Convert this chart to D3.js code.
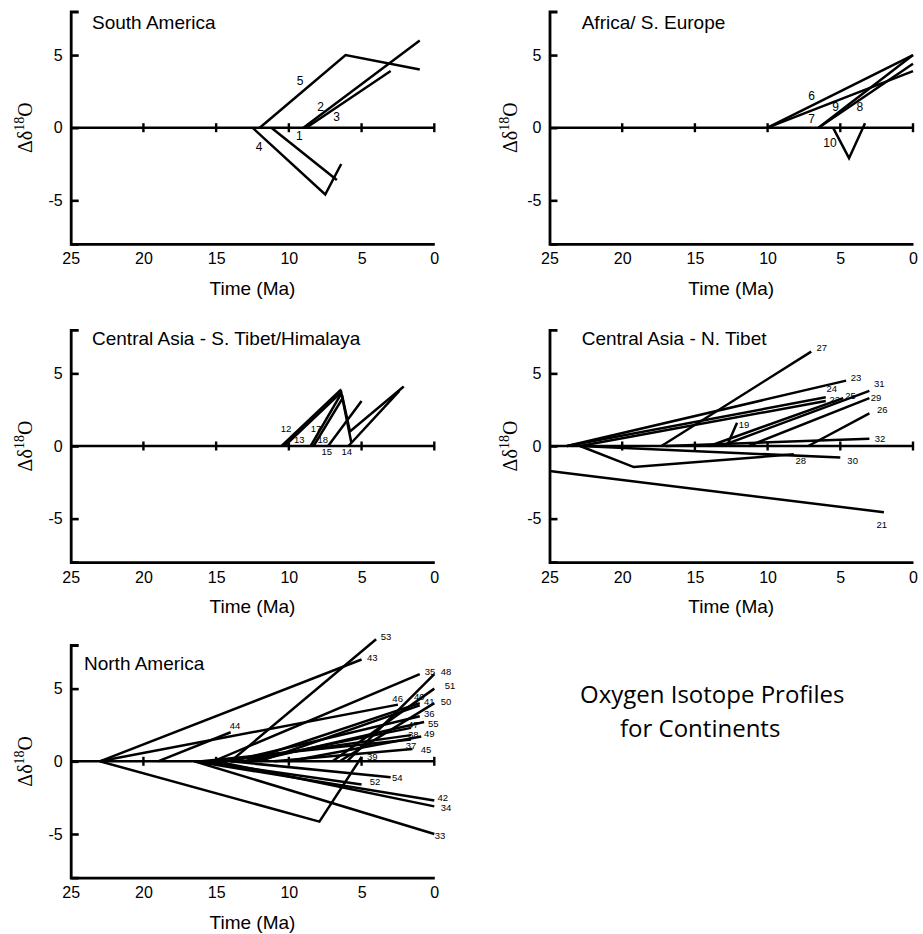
<!DOCTYPE html>
<html>
<head>
<meta charset="utf-8">
<script src="https://cdn.jsdelivr.net/npm/d3@7"></script>
<style>
  body { margin: 0; background: #fff; }
  text { fill: #000; }
</style>
</head>
<body>
<svg id="chart" width="923" height="934"></svg>
<script>
// Axis ticks
const timeTicks = [25, 20, 15, 10, 5, 0];
const zeroLineTicks = [20, 15, 10, 5, 0];
const valueTicks = [5, 0, -5];

// South America: profiles as [time Ma, delta] points, label anchors in data units
const southAmericaIds = ['1', '2', '3', '4', '5'];
const southAmericaLines = [
    [[11.2, 0], [6.7, -3.6]],
    [[9, 0], [1, 6]],
    [[8.8, 0], [3, 3.9]],
    [[12.5, 0], [7.5, -4.6], [6.4, -2.5]],
    [[12, 0], [6.1, 5], [1, 4]]
];
const southAmericaLabelAt = [[9.28, -0.57], [7.81, 1.45], [6.71, 0.76], [12.05, -1.31], [9.23, 3.21]];

// Africa / S. Europe
const africaIds = ['6', '7', '8', '9', '10'];
const africaLines = [
    [[10, 0], [0, 5]],
    [[10, 0], [0, 3.9]],
    [[6.5, 0], [0, 4.4]],
    [[6.5, 0], [0, 5]],
    [[5.5, 0], [4.4, -2.1], [3.3, 0.3]]
];
const africaLabelAt = [[6.97, 2.2], [6.97, 0.58], [3.65, 1.4], [5.32, 1.4], [5.71, -1.03]];

// Central Asia - S. Tibet/Himalaya
const southTibetIds = ['12', '13', '14', '15', '17', '18'];
const southTibetLines = [
    [[10.5, 0], [6.4, 3.9]],
    [[10.3, 0], [6.4, 3.7], [5.7, 0.2]],
    [[5.9, 0], [2.4, 3.8]],
    [[7.3, 0], [5, 3.1]],
    [[8.5, 0], [6.4, 3.6]],
    [[8.3, 0], [6.3, 3.3], [5.8, 1.0], [2.1, 4.1]]
];
const southTibetLabelAt = [[10.2, 1.22], [9.28, 0.48], [6.02, -0.39], [7.4, -0.39], [8.13, 1.22], [7.67, 0.46]];

// Central Asia - N. Tibet
const northTibetIds = ['19', '21', '22', '23', '24', '25', '26', '27', '28', '29', '30', '31', '32'];
const northTibetLines = [
    [[12.8, 0], [12.1, 1.6]],
    [[25, -1.72], [2, -4.56]],
    [[22.9, 0], [6, 3.1]],
    [[23.8, 0], [4.6, 4.5]],
    [[23.8, 0], [6, 3.35]],
    [[14, 0], [4.8, 3.3]],
    [[7.2, 0], [3, 2.25]],
    [[17.3, 0], [7, 6.5]],
    [[22.9, 0], [19.2, -1.45], [8.2, -0.57]],
    [[11.3, 0], [3, 3.3]],
    [[22.9, 0], [5, -0.8]],
    [[13.2, 0], [3, 3.8]],
    [[17, 0], [3, 0.5]]
];
const northTibetLabelAt = [[11.62, 1.51], [2.15, -5.39], [5.38, 3.22], [3.92, 4.7], [5.59, 3.95], [4.3, 3.5],
    [2.11, 2.48], [6.28, 6.77], [7.72, -1.01], [2.54, 3.32], [4.15, -1.01], [2.32, 4.27], [2.27, 0.5]];

// North America
const northAmericaIds = ['33', '34', '35', '36', '37', '38', '39', '40', '41', '42', '43', '44',
    '45', '46', '47', '48', '49', '50', '51', '52', '53', '54', '55'];
const northAmericaLines = [
    [[16.5, 0], [0, -5]],
    [[15, 0], [0, -3.1]],
    [[15.2, 0], [1, 6]],
    [[14, 0], [1, 3.1]],
    [[16, 0], [1.6, 1.5]],
    [[14.5, 0], [1.6, 1.8]],
    [[23, 0], [7.9, -4.15], [5, 0.3]],
    [[13, 0], [1, 4]],
    [[12, 0], [1, 3.85]],
    [[16.5, 0], [0, -2.7]],
    [[23, 0], [5, 7]],
    [[19, 0], [14, 2]],
    [[11, 0], [1.5, 0.85]],
    [[23, 0], [2.5, 3.9]],
    [[13, 0], [1.6, 2.3]],
    [[6, 0], [0, 6]],
    [[10, 0], [0.9, 1.7]],
    [[6.5, 0], [0, 4]],
    [[7, 0], [0, 5]],
    [[16, 0], [5, -1.6]],
    [[14, 0], [4, 8.4]],
    [[14, 0], [3, -1.1]],
    [[12.5, 0], [0.7, 2.7]]
];
const northAmericaLabelAt = [[-0.39, -5.07], [-0.8, -3.17], [0.3, 6.21], [0.34, 3.32], [1.6, 1.12], [1.44, 1.82],
    [4.26, 0.36], [1.03, 4.45], [0.34, 4.1], [-0.58, -2.5], [4.26, 7.16], [13.7, 2.43], [0.57, 0.78],
    [2.52, 4.29], [1.44, 2.55], [-0.8, 6.21], [0.34, 1.93], [-0.8, 4.1], [-1.08, 5.18], [4.08, -1.36],
    [3.32, 8.58], [2.54, -1.13], [0.07, 2.6]];

const svg = d3.select('#chart');

// column / row geometry of the figure
const cols = [
    { x0: 70.7, x1: 434.3, yLabelX: 25 },
    { x0: 549.5, x1: 913, yLabelX: 510 }
];
const rows = [
    { top: 11.5, bottom: 243.9 },
    { top: 329.8, bottom: 562.2 },
    { top: 645, bottom: 877.6 }
];

drawPanel({ col: 0, row: 0, title: 'South America', titleX: 92, titleY: 29.3,
    ids: southAmericaIds, lines: southAmericaLines, labelAt: southAmericaLabelAt, labelSize: 12 });
drawPanel({ col: 1, row: 0, title: 'Africa/ S. Europe', titleX: 581.7, titleY: 29.3,
    ids: africaIds, lines: africaLines, labelAt: africaLabelAt, labelSize: 12 });
drawPanel({ col: 0, row: 1, title: 'Central Asia - S. Tibet/Himalaya', titleX: 92, titleY: 345,
    ids: southTibetIds, lines: southTibetLines, labelAt: southTibetLabelAt, labelSize: 9.5 });
drawPanel({ col: 1, row: 1, title: 'Central Asia - N. Tibet', titleX: 581.7, titleY: 345,
    ids: northTibetIds, lines: northTibetLines, labelAt: northTibetLabelAt, labelSize: 9.5 });
drawPanel({ col: 0, row: 2, title: 'North America', titleX: 84, titleY: 670,
    ids: northAmericaIds, lines: northAmericaLines, labelAt: northAmericaLabelAt, labelSize: 9.5 });

// figure caption
const caption = svg.append('g')
    .attr('font-family', '"Open Sans", "Noto Sans", sans-serif')
    .attr('font-size', 24);
caption.append('text').attr('x', 580).attr('y', 703).text('Oxygen Isotope Profiles');
caption.append('text').attr('x', 620).attr('y', 737).text('for Continents');

function drawPanel(p) {
    const c = cols[p.col];
    const r = rows[p.row];

    const x = d3.scaleLinear().domain([25, 0]).range([c.x0, c.x1]);
    const y = d3.scaleLinear().domain([-8, 8]).range([r.bottom, r.top]);

    const g = svg.append('g');

    // left axis, ticks pointing inward
    const yAxis = g.append('g')
        .attr('transform', `translate(${c.x0},0)`)
        .call(d3.axisLeft(y).tickValues(valueTicks)
            .tickSizeInner(-8).tickSizeOuter(-8).tickPadding(8)
            .tickFormat(d => d < 0 ? '-' + Math.abs(d) : d));
    styleAxis(yAxis);

    // bottom axis, labels only
    const xAxis = g.append('g')
        .attr('transform', `translate(0,${r.bottom})`)
        .call(d3.axisBottom(x).tickValues(timeTicks).tickSize(0).tickPadding(9));
    styleAxis(xAxis);

    // zero line with crossing ticks
    g.append('line')
        .attr('x1', x(25)).attr('x2', x(0))
        .attr('y1', y(0)).attr('y2', y(0))
        .attr('stroke', '#000').attr('stroke-width', 2.6);
    g.selectAll('.zt')
        .data(zeroLineTicks)
        .enter()
        .append('line')
        .attr('x1', d => x(d)).attr('x2', d => x(d))
        .attr('y1', y(0) - 4.5).attr('y2', y(0) + 4.5)
        .attr('stroke', '#000').attr('stroke-width', 2.4);

    // axis titles
    g.append('text')
        .attr('x', (c.x0 + c.x1) / 2)
        .attr('y', r.bottom + 51)
        .attr('text-anchor', 'middle')
        .attr('font-family', '"Liberation Sans", Arial, sans-serif')
        .attr('font-size', 19)
        .text('Time (Ma)');

    const yl = g.append('text')
        .attr('transform', `translate(${c.yLabelX + 7},${y(0)}) rotate(-90)`)
        .attr('text-anchor', 'middle')
        .attr('font-family', '"Liberation Serif", "Times New Roman", serif')
        .attr('font-size', 20);
    yl.append('tspan').text('Δδ');
    yl.append('tspan').attr('font-size', 14).attr('dy', -8).text('18');
    yl.append('tspan').attr('dy', 8).text('O');

    // panel title
    g.append('text')
        .attr('x', p.titleX).attr('y', p.titleY)
        .attr('font-family', '"Liberation Sans", Arial, sans-serif')
        .attr('font-size', 19)
        .text(p.title);

    // profile numbers
    g.selectAll('.lab')
        .data(p.ids)
        .enter()
        .append('text')
        .attr('x', (d, i) => x(p.labelAt[i][0]))
        .attr('y', (d, i) => y(p.labelAt[i][1]))
        .attr('text-anchor', 'middle')
        .attr('dominant-baseline', 'central')
        .attr('font-family', '"Liberation Sans", Arial, sans-serif')
        .attr('font-size', p.labelSize)
        .text(d => d);

    // profiles
    const line = d3.line().x(d => x(d[0])).y(d => y(d[1]));
    g.selectAll('.profile')
        .data(p.lines)
        .enter()
        .append('path')
        .attr('d', line)
        .attr('fill', 'none')
        .attr('stroke', '#000')
        .attr('stroke-width', 2.5)
        .attr('stroke-linejoin', 'miter');
}

function styleAxis(sel) {
    sel.select('.domain').attr('stroke-width', 2.8);
    sel.selectAll('.tick line').attr('stroke-width', 2.6);
    sel.selectAll('.tick text')
        .attr('font-family', '"Liberation Sans", Arial, sans-serif')
        .attr('font-size', 16);
}
</script>
</body>
</html>
